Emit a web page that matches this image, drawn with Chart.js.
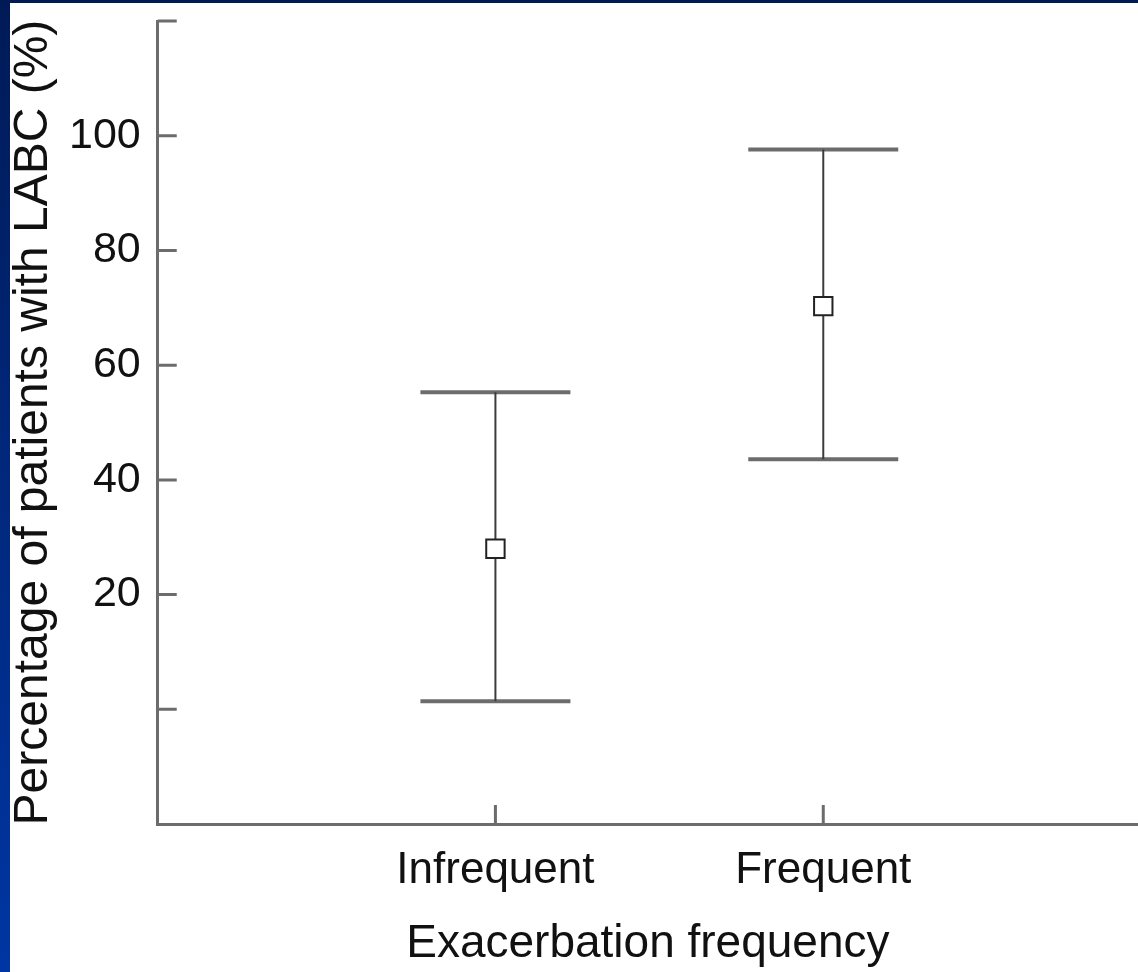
<!DOCTYPE html>
<html>
<head>
<meta charset="utf-8">
<script src="https://cdn.jsdelivr.net/npm/chart.js@4.4.1/dist/chart.umd.min.js"></script>
<style>
  html, body { margin: 0; padding: 0; }
  body {
    width: 1138px; height: 972px; overflow: hidden; position: relative;
    background: linear-gradient(#001a56, #0036a3);
  }
  #wrap { position: absolute; left: 10px; top: 3px; width: 1128px; height: 969px; background: #fff; }
</style>
</head>
<body>
<div id="wrap"><canvas id="chart"></canvas></div>
<script>
// values
const groups = ['Infrequent', 'Frequent'];
const groupX = [1, 2];
const means = [28, 70.3];
const upper = [55.3, 97.6];
const lower = [1.4, 43.6];

// y axis: labelled ticks and plain tick marks
const yTickValues = [20, 40, 60, 80, 100];
const yTickMarks = [0, 20, 40, 60, 80, 100, 120];

const axisGray = '#6c6c6c';
const font = 'Liberation Sans, Arial, sans-serif';

// ticks in this figure point into the plot, so draw them here
const innerTicks = {
  id: 'innerTicks',
  afterDraw(chart) {
    const { ctx, scales: { x, y } } = chart;
    ctx.save();
    ctx.strokeStyle = axisGray;
    ctx.lineWidth = 3;
    ctx.beginPath();
    yTickMarks.forEach(v => {
      const py = y.getPixelForValue(v);
      ctx.moveTo(x.left, py);
      ctx.lineTo(x.left + 19, py);
    });
    groupX.forEach(v => {
      const px = x.getPixelForValue(v);
      ctx.moveTo(px, y.bottom);
      ctx.lineTo(px, y.bottom - 19);
    });
    ctx.stroke();
    ctx.restore();
  }
};

const whiskers = groupX.map((gx, i) => ({
  type: 'line',
  data: [{ x: gx, y: lower[i] }, { x: gx, y: upper[i] }],
  showLine: true,
  borderColor: '#3c3c3c',
  borderWidth: 2,
  pointRadius: 0,
  order: 2
}));

const caps = {
  type: 'scatter',
  data: groupX.flatMap((gx, i) => [{ x: gx, y: upper[i] }, { x: gx, y: lower[i] }]),
  pointStyle: 'line',
  pointRadius: 75,
  borderColor: axisGray,
  borderWidth: 4,
  order: 3
};

const meanPoints = {
  type: 'scatter',
  data: groupX.map((gx, i) => ({ x: gx, y: means[i] })),
  pointStyle: 'rect',
  pointRadius: 13,
  backgroundColor: '#ffffff',
  borderColor: '#222222',
  borderWidth: 2,
  order: 1
};

new Chart(document.getElementById('chart'), {
  type: 'scatter',
  data: { datasets: [meanPoints, ...whiskers, caps] },
  options: {
    responsive: true,
    maintainAspectRatio: false,
    animation: false,
    events: [],
    layout: { autoPadding: false, padding: { top: 0, left: 6, right: 0, bottom: 0 } },
    plugins: { legend: { display: false }, tooltip: { enabled: false } },
    scales: {
      x: {
        type: 'linear',
        min: -0.03,
        max: 2.96,
        afterBuildTicks: scale => { scale.ticks = groupX.map(v => ({ value: v })); },
        ticks: {
          callback: v => groups[groupX.indexOf(v)],
          color: '#111',
          font: { family: font, size: 44 },
          padding: 20,
          maxRotation: 0
        },
        grid: { display: true, drawOnChartArea: false, drawTicks: false },
        border: { display: true, color: axisGray, width: 3 },
        title: {
          display: true,
          text: 'Exacerbation frequency',
          color: '#111',
          font: { family: font, size: 46 },
          padding: 0
        }
      },
      y: {
        type: 'linear',
        min: -20,
        max: 120,
        afterBuildTicks: scale => { scale.ticks = yTickValues.map(v => ({ value: v })); },
        ticks: {
          color: '#111',
          font: { family: font, size: 43, lineHeight: 0.05 },
          padding: 17,
          autoSkip: false
        },
        grid: { display: true, drawOnChartArea: false, drawTicks: false },
        border: { display: true, color: axisGray, width: 3 },
        title: {
          display: true,
          text: 'Percentage of patients with LABC (%)',
          color: '#111',
          font: { family: font, size: 48, lineHeight: 0.75 },
          padding: 0
        }
      }
    }
  },
  plugins: [innerTicks]
});
</script>
</body>
</html>
